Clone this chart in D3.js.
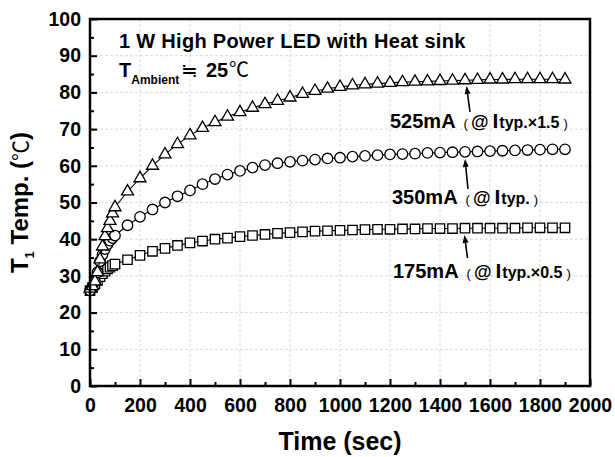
<!DOCTYPE html>
<meta charset="utf-8">
<style>
body { margin: 0; background: #fff; }
svg { font-family: "Liberation Sans", Arial, sans-serif; }
.tick text { font-weight: bold; font-size: 19.5px; fill: #000; }
.grid line { stroke: #d9d9d9; stroke-width: 1; stroke-dasharray: 3,2; }
.series path.line { fill: none; stroke: #000; stroke-width: 1.1; }
.series path.mark { fill: #fff; stroke: #000; stroke-width: 1.3; }
</style>
<body>
<script src="https://cdn.jsdelivr.net/npm/d3@7"></script>
<script>

// sample times (sec): every 10 s for the first 100 s, then every 50 s
var times = [0, 10, 20, 30, 40, 50, 60, 70, 80, 90, 100,
  150, 200, 250, 300, 350, 400, 450, 500, 550, 600, 650, 700, 750, 800,
  850, 900, 950, 1000, 1050, 1100, 1150, 1200, 1250, 1300, 1350, 1400,
  1450, 1500, 1550, 1600, 1650, 1700, 1750, 1800, 1850, 1900];

// T1 temperature (deg C) for each drive current
var temp525 = [26.5, 27.2, 28.5, 31, 34.5, 38, 40.8, 43, 45, 47, 48.7,
  53, 56.6, 60, 63.1, 65.9, 68.3, 70.3, 71.9, 73.4, 74.6, 75.8, 76.8, 77.7, 78.6,
  79.6, 80.4, 81, 81.5, 81.9, 82.2, 82.4, 82.6, 82.8, 82.9, 83, 83.1,
  83.2, 83.3, 83.4, 83.5, 83.5, 83.6, 83.6, 83.6, 83.6, 83.5];
var temp350 = [26, 27, 28.5, 31, 34, 35.8, 37.3, 38.6, 39.6, 40.3, 41,
  43.8, 46.1, 48.1, 50, 51.7, 53.3, 55, 56.4, 57.6, 58.6, 59.5, 60.2, 60.7, 61.1,
  61.4, 61.7, 62, 62.2, 62.5, 62.7, 62.9, 63.1, 63.2, 63.3, 63.5, 63.6,
  63.7, 63.8, 63.9, 64, 64.1, 64.2, 64.3, 64.4, 64.5, 64.5];
var temp175 = [26, 26.8, 27.8, 28.8, 29.8, 30.6, 31.3, 31.9, 32.4, 32.8, 33.2,
  34.4, 35.6, 36.7, 37.5, 38.3, 39, 39.5, 40, 40.3, 40.7, 41, 41.3, 41.6, 41.8,
  42, 42.2, 42.3, 42.4, 42.5, 42.6, 42.7, 42.7, 42.8, 42.8, 42.9, 42.9,
  42.9, 43, 43, 43, 43, 43, 43.1, 43.1, 43.1, 43.1];

var xTicks = d3.range(0, 2001, 200);
var yTicks = d3.range(0, 101, 10);

var margin = {top: 19, right: 25, bottom: 71, left: 90},
    width = 615 - margin.left - margin.right,
    height = 457 - margin.top - margin.bottom;

var x = d3.scaleLinear().domain([0, 2000]).range([0, width]);
var y = d3.scaleLinear().domain([0, 100]).range([height, 0]);

var svg = d3.select("body").append("svg")
    .attr("width", 615)
    .attr("height", 457)
  .append("g")
    .attr("transform", "translate(" + margin.left + "," + margin.top + ")");

// grid
var grid = svg.append("g").attr("class", "grid");
grid.selectAll(".gx").data(xTicks.slice(1, -1)).enter().append("line")
    .attr("x1", function(d) { return x(d); }).attr("x2", function(d) { return x(d); })
    .attr("y1", 0).attr("y2", height);
grid.selectAll(".gy").data(yTicks.slice(1, -1)).enter().append("line")
    .attr("y1", function(d) { return y(d); }).attr("y2", function(d) { return y(d); })
    .attr("x1", 0).attr("x2", width);

// minor ticks (inward)
svg.append("g")
    .attr("transform", "translate(0," + height + ")")
    .call(d3.axisBottom(x).tickValues(d3.range(100, 2000, 200)).tickSizeInner(-4).tickSizeOuter(0).tickFormat(""))
    .call(function(g) { g.select(".domain").remove(); });
svg.append("g")
    .call(d3.axisLeft(y).tickValues(d3.range(5, 100, 10)).tickSizeInner(-4).tickSizeOuter(0).tickFormat(""))
    .call(function(g) { g.select(".domain").remove(); });

// major ticks + labels
svg.append("g")
    .attr("transform", "translate(0," + height + ")")
    .call(d3.axisBottom(x).tickValues(xTicks).tickSizeInner(-7).tickSizeOuter(0).tickPadding(12).tickFormat(d3.format("d")))
    .call(function(g) { g.select(".domain").remove(); });
svg.append("g")
    .call(d3.axisLeft(y).tickValues(yTicks).tickSizeInner(-7).tickSizeOuter(0).tickPadding(9).tickFormat(d3.format("d")))
    .call(function(g) { g.select(".domain").remove(); });
svg.selectAll(".tick line").attr("stroke", "#000").attr("stroke-width", 2);

// data series
var series = [
  {values: temp175, type: d3.symbolSquare, size: 88},
  {values: temp350, type: d3.symbolCircle, size: 86},
  {values: temp525, type: d3.symbolTriangle, size: 62}
];
var line = d3.line()
    .x(function(d, i) { return x(times[i]); })
    .y(function(d) { return y(d); });

series.forEach(function(s) {
  var g = svg.append("g").attr("class", "series");
  g.append("path").attr("class", "line").attr("d", line(s.values));
  g.selectAll(".mark").data(s.values).enter().append("path")
      .attr("class", "mark")
      .attr("transform", function(d, i) { return "translate(" + x(times[i]) + "," + y(d) + ")"; })
      .attr("d", d3.symbol().type(s.type).size(s.size));
});

// frame
svg.append("rect")
    .attr("width", width).attr("height", height)
    .attr("fill", "none").attr("stroke", "#000").attr("stroke-width", 2.5);

// axis titles
svg.append("text")
    .attr("x", width / 2).attr("y", 431)
    .attr("text-anchor", "middle")
    .style("font-weight", "bold").style("font-size", "25px")
    .text("Time (sec)");

var yt = svg.append("text")
    .attr("transform", "translate(" + (-62) + "," + (height / 2) + ") rotate(-90)")
    .attr("text-anchor", "middle")
    .style("font-weight", "bold").style("font-size", "24px");
yt.append("tspan").text("T");
yt.append("tspan").attr("dy", 6).style("font-size", "13px").text("1");
yt.append("tspan").attr("dy", -6).text(" Temp. (");
yt.append("tspan").style("font-weight", "normal").style("font-family", "'Noto Sans CJK JP', sans-serif").style("font-size", "21px").text("℃");
yt.append("tspan").text(")");

// annotations (screen coordinates relative to plot group)
var ann = svg.append("g").attr("transform", "translate(" + (-margin.left) + "," + (-margin.top) + ")");
ann.append("text")
    .attr("x", 119).attr("y", 48)
    .style("font-weight", "bold").style("font-size", "20px").style("letter-spacing", "0.3px")
    .text("1 W High Power LED with Heat sink");

var amb = ann.append("text").attr("x", 119).attr("y", 77).style("font-weight", "bold").style("font-size", "20px");
amb.append("tspan").text("T");
amb.append("tspan").attr("dy", 7).style("font-size", "12px").text("Ambient");
amb.append("tspan").attr("dy", -7).attr("x", 181).style("font-weight", "normal")
    .style("font-family", "'Noto Sans CJK JP', sans-serif").style("font-size", "20px").text("≒");
amb.append("tspan").attr("x", 206).text("25");
amb.append("tspan").attr("x", 229).style("font-weight", "normal")
    .style("font-family", "'Noto Sans CJK JP', sans-serif").style("font-size", "20px").text("℃");

var labels = [
  {x: 390, y: 128, mA: "525mA", sub: "typ.×1.5", close: true, tip: [466.5, 86], tail: [470, 112]},
  {x: 392, y: 204, mA: "350mA", sub: "typ.", close: true, tip: [465, 159], tail: [468, 189]},
  {x: 393, y: 278, mA: "175mA", sub: "typ.×0.5", close: true, tip: [464.5, 235], tail: [467.5, 258]}
];

labels.forEach(function(l) {
  var t = ann.append("text").attr("x", l.x).attr("y", l.y).style("font-weight", "bold");
  t.append("tspan").style("font-size", "20px").text(l.mA);
  t.append("tspan").attr("dx", 8).style("font-size", "13px").style("font-weight", "normal").text("(");
  t.append("tspan").attr("dx", 3).style("font-size", "18px").text("@");
  t.append("tspan").attr("dx", 4).style("font-size", "21px").text("I");
  t.append("tspan").attr("dx", 1).style("font-size", "16px").text(l.sub);
  t.append("tspan").attr("dx", 4).style("font-size", "13px").style("font-weight", "normal").text(")");

  // arrow
  var ang = Math.atan2(l.tip[1] - l.tail[1], l.tip[0] - l.tail[0]);
  var hl = 8, hw = 3;
  var bx = l.tip[0] - hl * Math.cos(ang), by = l.tip[1] - hl * Math.sin(ang);
  ann.append("line")
      .attr("x1", l.tail[0]).attr("y1", l.tail[1]).attr("x2", bx).attr("y2", by)
      .attr("stroke", "#000").attr("stroke-width", 1.6);
  ann.append("path")
      .attr("d", "M" + l.tip[0] + "," + l.tip[1] +
        "L" + (bx + hw * Math.sin(ang)) + "," + (by - hw * Math.cos(ang)) +
        "L" + (bx - hw * Math.sin(ang)) + "," + (by + hw * Math.cos(ang)) + "Z")
      .attr("fill", "#000");
});

</script>
</body>
